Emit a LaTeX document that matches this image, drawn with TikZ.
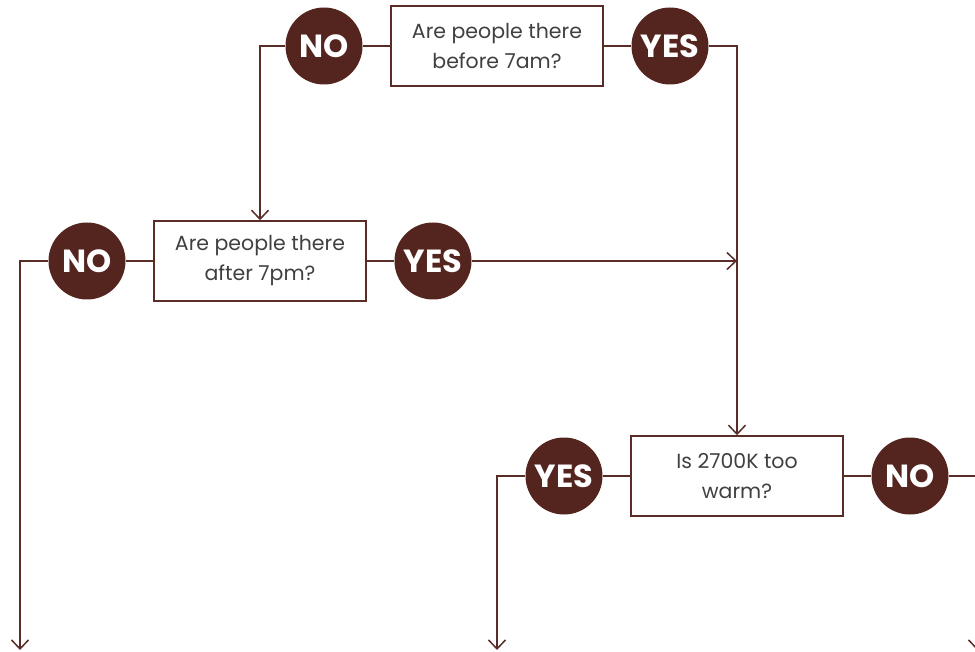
\documentclass[tikz,border=0pt]{standalone}
\usepackage{fontspec}
\setmainfont{Poppins}
\usetikzlibrary{positioning,calc,arrows.meta}
\definecolor{darkbrown}{HTML}{54251F}
\definecolor{linebrown}{HTML}{5A2C28}
\definecolor{textgrey}{HTML}{404040}

\begin{document}
\begin{tikzpicture}[x=1pt,y=-1pt,
	question/.style={draw=linebrown,line width=1.5pt,fill=white,minimum width=212pt,minimum height=80pt,inner sep=0pt,align=center,text=textgrey,font=\fontsize{20.5}{30}\selectfont},
	answer/.style={circle,fill=darkbrown,minimum size=77pt,inner sep=0pt,text=white,font=\fontsize{32}{32}\selectfont\bfseries},
	link/.style={draw=linebrown,line width=1.5pt},
	arrow/.style={link,-{Straight Barb[length=9pt,width=17pt]}}]
		\useasboundingbox (0,0) rectangle (975,652);
		\clip (0,0) rectangle (975,652);
		\node[question] (q1) at (497,46) {Are people there\\before 7am?};
		\node[answer] (no1) at (324,46) {NO};
		\node[answer] (yes1) at (670,46) {YES};
		\node[question] (q2) at (260,261) {Are people there\\after 7pm?};
		\node[answer] (no2) at (87,261) {NO};
		\node[answer] (yes2) at (433,261) {YES};
		\node[question] (q3) at (737,476) {Is 2700K too\\warm?};
		\node[answer] (yes3) at (564,476) {YES};
		\node[answer] (no3) at (910,476) {NO};
		\coordinate (out1) at (20,650);
		\coordinate (out2) at (497,650);
		\coordinate (out3) at (977,650);
		\draw[link] (q1) -- (no1);
		\draw[link] (q1) -- (yes1);
		\draw[link] (q2) -- (no2);
		\draw[link] (q2) -- (yes2);
		\draw[link] (q3) -- (yes3);
		\draw[link] (q3) -- (no3);
		\draw[arrow] (no1.west) -| (q2.north);
		\draw[arrow] (yes1.east) -| (q3.north);
		\draw[arrow] (yes2.east) -- (yes2 -| q3.north);
		\draw[arrow] (no2.west) -| (out1);
		\draw[arrow] (yes3.west) -| (out2);
		\draw[arrow] (no3.east) -| (out3);
	\end{tikzpicture}
\end{document}
